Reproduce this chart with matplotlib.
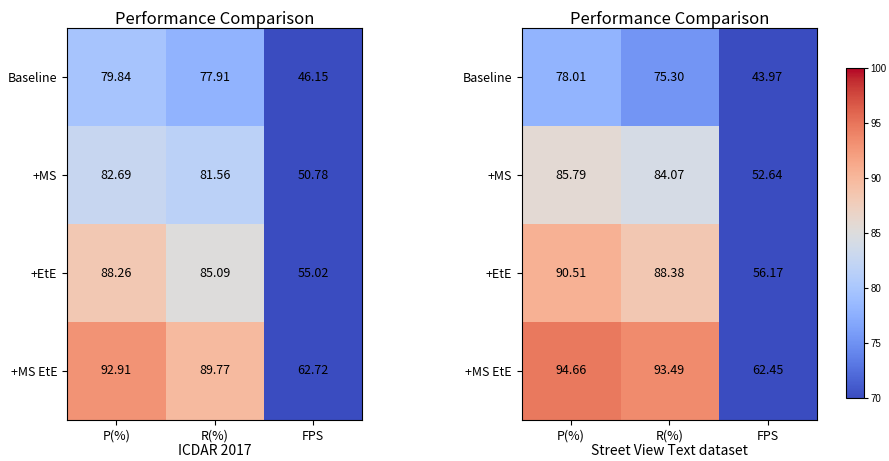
import numpy as np
import matplotlib
matplotlib.use("Agg")
import matplotlib.pyplot as plt

plt.rcParams['font.family'] = ['Noto Sans CJK SC', 'DejaVu Sans']

# ablation results on two benchmarks
methods = ["Baseline", "+MS", "+EtE", "+MS EtE"]
metrics = ["P(%)", "R(%)", "FPS"]
icdar_p = [79.84, 82.69, 88.26, 92.91]
icdar_r = [77.91, 81.56, 85.09, 89.77]
icdar_fps = [46.15, 50.78, 55.02, 62.72]
svt_p = [78.01, 85.79, 90.51, 94.66]
svt_r = [75.30, 84.07, 88.38, 93.49]
svt_fps = [43.97, 52.64, 56.17, 62.45]
datasets = ["ICDAR 2017", "Street View Text dataset"]

tables = [np.array([icdar_p, icdar_r, icdar_fps]).T,
          np.array([svt_p, svt_r, svt_fps]).T]

fig = plt.figure(figsize=(8.89, 4.61), dpi=100)
ax1 = fig.add_axes([0.0754, 0.089, 0.332, 0.850])
ax2 = fig.add_axes([0.587, 0.089, 0.332, 0.850])
cax = fig.add_axes([0.9516, 0.137, 0.020, 0.716])

for ax, data, name in zip([ax1, ax2], tables, datasets):
    im = ax.imshow(data, cmap="coolwarm", vmin=70, vmax=100, aspect="auto")
    ax.set_xticks(range(len(metrics)))
    ax.set_xticklabels(metrics, fontsize=9)
    ax.set_yticks(range(len(methods)))
    ax.set_yticklabels(methods, fontsize=9)
    for i in range(data.shape[0]):
        for j in range(data.shape[1]):
            ax.text(j, i, f"{data[i, j]:.2f}", ha="center", va="center",
                    color="black", fontsize=9)
    ax.set_title("Performance Comparison", fontsize=12, pad=3)
    ax.set_xlabel(name, fontsize=10, labelpad=1)

cb = fig.colorbar(im, cax=cax)
cb.set_ticks([70, 75, 80, 85, 90, 95, 100])
cb.ax.tick_params(length=3, pad=2)
for t in cb.ax.get_yticklabels():
    t.set_family("Liberation Sans")
    t.set_fontsize(7)

plt.savefig("out.png", dpi=100)
